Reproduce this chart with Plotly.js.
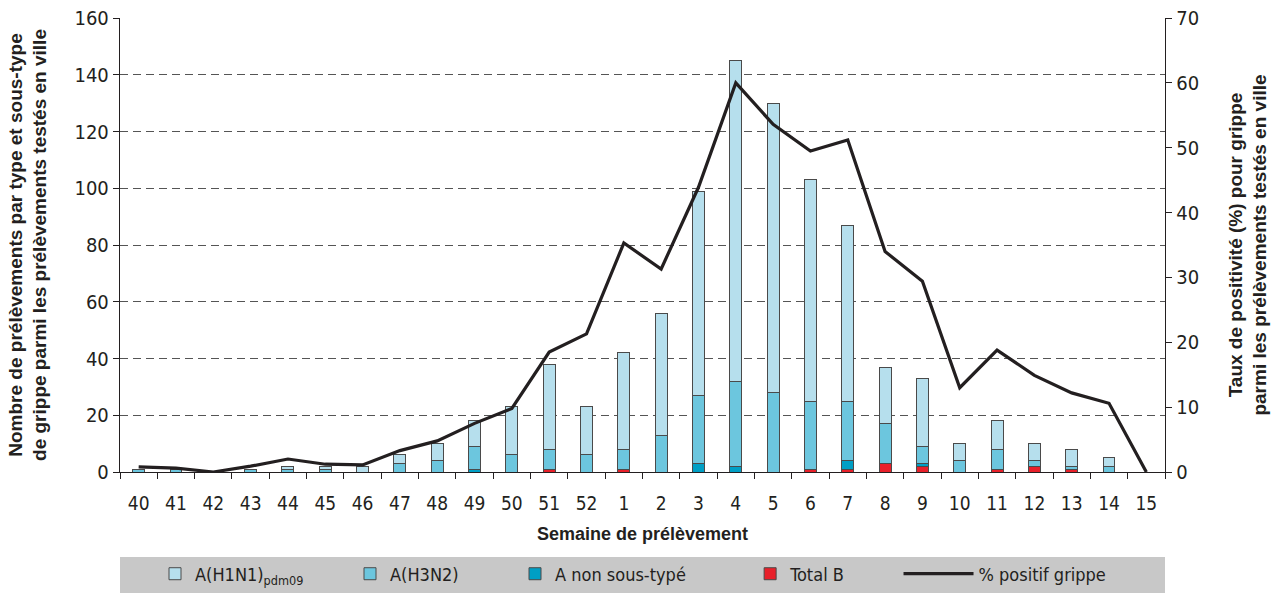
<!DOCTYPE html>
<html>
<head>
<meta charset="utf-8">
<script src="https://cdn.plot.ly/plotly-3.0.1.min.js"></script>
<style>
html,body{margin:0;padding:0;background:#fff;}
#chart{width:1273px;height:593px;}
</style>
</head>
<body>
<div id="chart"></div>
<script>
const weeks = ["40","41","42","43","44","45","46","47","48","49","50","51","52","1","2","3","4","5","6","7","8","9","10","11","12","13","14","15"];
const h1n1   = [0,0,0,0,1,1,2,3,6,9,17,30,17,34,43,72,113,102,78,62,20,24,6,10,6,6,3,0];
const h3n2   = [1,1,0,1,1,1,0,3,4,8,6,7,6,7,13,24,30,28,24,21,14,6,4,7,2,1,2,0];
const aNonST = [0,0,0,0,0,0,0,0,0,1,0,0,0,0,0,3,2,0,0,3,0,1,0,0,0,0,0,0];
const totalB = [0,0,0,0,0,0,0,0,0,0,0,1,0,1,0,0,0,0,1,1,3,2,0,1,2,1,0,0];
const pctPos = [0.8,0.6,0,0.9,2.0,1.2,1.1,3.3,4.8,7.5,9.8,18.5,21.3,35.3,31.3,43.9,60.0,53.6,49.5,51.2,34.0,29.4,13.0,18.8,14.9,12.2,10.6,0];

const FONT = "'DejaVu Sans Condensed','Liberation Sans Narrow','Liberation Sans',Arial,sans-serif";
const TFONT = "'Liberation Sans',Arial,sans-serif";
const outline = {color:'#4a4a4a', width:1};
const barW = 0.32;

const traces = [
  {type:'bar', x:weeks, y:totalB, name:'Total B', marker:{color:'#e8202a', line:outline}, width:barW, legend:'legend4'},
  {type:'bar', x:weeks, y:aNonST, name:'A non sous-typé', marker:{color:'#009fc5', line:outline}, width:barW, legend:'legend3'},
  {type:'bar', x:weeks, y:h3n2, name:'A(H3N2)', marker:{color:'#6cc6de', line:outline}, width:barW, legend:'legend2'},
  {type:'bar', x:weeks, y:h1n1, name:'A(H1N1)<sub>pdm09</sub>', marker:{color:'#b6dfed', line:outline}, width:barW, legend:'legend'},
  {type:'scatter', mode:'lines', x:weeks, y:pctPos, yaxis:'y2', name:'% positif grippe', line:{color:'#231f20', width:3.2}, legend:'legend5'}
];

function lg(x, iw){
  return {x:x, xanchor:'left', xref:'paper', y:0.032, yref:'container', yanchor:'middle', orientation:'h', bgcolor:'rgba(0,0,0,0)', borderwidth:0,
          font:{family:FONT, size:18, color:'#231f20'}, itemwidth:iw||30, itemclick:false, itemdoubleclick:false};
}

const layout = {
  width:1273, height:593,
  margin:{l:120, r:108, t:18, b:121},
  paper_bgcolor:'#ffffff', plot_bgcolor:'#ffffff',
  barmode:'stack',
  font:{family:FONT, size:19, color:'#231f20'},
  showlegend:true,
  xaxis:{type:'category', tickson:'boundaries', ticks:'outside', ticklen:6, tickcolor:'#231f20', tickwidth:1, automargin:false,
         showline:true, linecolor:'#231f20', linewidth:1.2, showgrid:false, ticklabelstandoff:14,
         tickfont:{family:FONT, size:19, color:'#231f20'},
         title:{text:'Semaine de prélèvement', font:{family:TFONT, size:18, color:'#231f20', weight:'bold'}, standoff:14}},
  yaxis:{range:[0,160], dtick:20, ticks:'outside', ticklen:6, tickcolor:'#231f20', showline:true, linecolor:'#231f20', linewidth:1.2, automargin:false,
         showgrid:true, gridcolor:'#555555', gridwidth:1, griddash:'8px,5px', zeroline:false,
         tickfont:{family:FONT, size:20, color:'#231f20'},
         title:{text:'Nombre de prélèvements par type et sous-type<br>de grippe parmi les prélèvements testés en ville', font:{family:TFONT, size:19, color:'#231f20', weight:'bold'}, standoff:22}},
  yaxis2:{range:[0,70], dtick:10, overlaying:'y', side:'right', ticks:'outside', ticklen:6, tickcolor:'#231f20', showline:true, linecolor:'#231f20', linewidth:1.2, automargin:false,
          showgrid:false, zeroline:false, tickfont:{family:FONT, size:20, color:'#231f20'},
          title:{text:'Taux de positivité (%) pour grippe<br>parmi les prélèvements testés en ville', font:{family:TFONT, size:19, color:'#231f20', weight:'bold'}, standoff:30}},
  legend: lg(0.0335),
  legend2: lg(0.2201),
  legend3: lg(0.378),
  legend4: lg(0.603),
  legend5: lg(0.745, 70),
  shapes:[{type:'rect', xref:'paper', yref:'paper', x0:0, x1:1, y0:-0.1872, y1:-0.2665, fillcolor:'#c8c8c8', line:{width:0}, layer:'below'}]
};

Plotly.newPlot('chart', traces, layout, {staticPlot:true, displayModeBar:false});
</script>
</body>
</html>
